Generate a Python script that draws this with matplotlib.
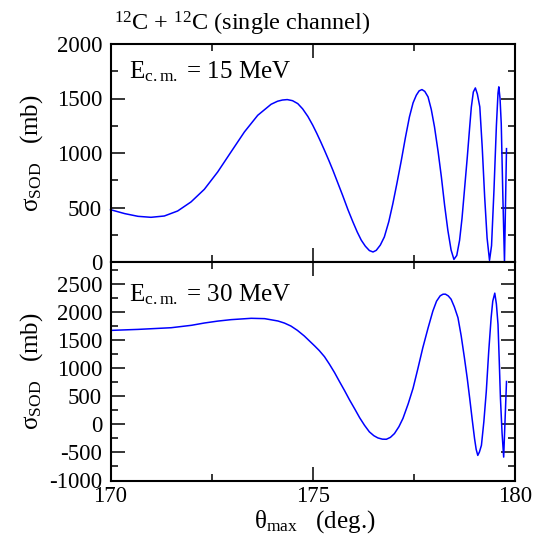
import matplotlib
matplotlib.use("Agg")
import matplotlib.pyplot as plt
from matplotlib.ticker import MultipleLocator

plt.rcParams['font.family'] = ['Liberation Serif', 'DejaVu Serif']
plt.rcParams['mathtext.fontset'] = 'custom'
plt.rcParams['mathtext.rm'] = 'Liberation Serif'
plt.rcParams['mathtext.it'] = 'Liberation Serif:italic'
plt.rcParams['axes.unicode_minus'] = False

# ---- data ----
theta_15 = [170.00, 170.35, 170.68, 171.00, 171.33, 171.66, 171.99, 172.32, 172.65, 172.98,
            173.31, 173.64, 173.97, 174.13, 174.25, 174.37, 174.50, 174.63, 174.75, 174.88,
            175.00, 175.10, 175.20, 175.29, 175.40, 175.50, 175.62, 175.74, 175.87, 175.99,
            176.10, 176.20, 176.30, 176.40, 176.49, 176.57,
            176.67, 176.77, 176.88, 176.98, 177.08, 177.19, 177.29, 177.39, 177.48, 177.56,
            177.63, 177.70, 177.77, 177.85, 177.93, 178.01, 178.10, 178.18, 178.26, 178.34,
            178.42, 178.49, 178.56, 178.63, 178.69, 178.75, 178.82, 178.88, 178.92, 178.97,
            179.02, 179.07, 179.13, 179.19, 179.25, 179.31, 179.37, 179.42, 179.48, 179.54,
            179.58, 179.60, 179.63, 179.66, 179.70, 179.74, 179.79]
sigma_15 = [480, 444, 419, 410, 422, 468, 551, 667, 826, 1010,
            1193, 1346, 1447, 1475, 1486, 1490, 1480, 1453, 1405, 1335,
            1255, 1180, 1100, 1025, 930, 840, 725, 610, 480, 370,
            275, 200, 145, 105, 92, 107,
            155, 230, 370, 535, 720, 933, 1140, 1331, 1460, 1530,
            1570, 1582, 1565, 1515, 1400, 1239, 1010, 780, 520, 291,
            110, 24, 60, 199, 400, 658, 960, 1239, 1420, 1560,
            1597, 1540, 1423, 1050, 597, 220, 15, 150, 658, 1250,
            1550, 1607, 1500, 1270, 600, 0, 1040]

theta_30 = [170.00, 170.68, 171.50, 172.00, 172.32, 172.65, 172.98, 173.48, 173.81, 174.14,
            174.30, 174.46, 174.62, 174.79, 174.92, 175.05, 175.16, 175.29, 175.41, 175.54, 175.66,
            175.79, 175.91, 176.04, 176.16, 176.28, 176.40, 176.51, 176.61, 176.72, 176.82,
            176.92, 177.02, 177.13, 177.23, 177.36, 177.48, 177.60, 177.72, 177.85, 177.97,
            178.06, 178.15, 178.22, 178.28, 178.35, 178.42, 178.50, 178.59, 178.67, 178.75,
            178.82, 178.88, 178.94, 179.00, 179.04, 179.08, 179.12, 179.17, 179.23, 179.29,
            179.35, 179.41, 179.45, 179.50, 179.54, 179.58, 179.61, 179.64, 179.68, 179.72,
            179.79]
sigma_30 = [1679, 1697, 1727, 1770, 1811, 1845, 1871, 1895, 1889, 1847,
            1810, 1757, 1680, 1580, 1490, 1400, 1320, 1210, 1079, 925, 767,
            600, 438, 275, 120, -15, -132, -200, -240, -262, -264,
            -230, -162, -40, 108, 370, 647, 1000, 1367, 1720, 2026,
            2200, 2296, 2325, 2326, 2295, 2236, 2100, 1906, 1580, 1187,
            820, 468, 100, -252, -444, -552, -492, -372, 50, 588,
            1300, 1906, 2200, 2344, 2150, 1786, 1150, 468, -150, -582,
            767]

xticks = [170, 175, 180]
xticklabels = ['170', '175', '180']
yticks_top = [0, 500, 1000, 1500, 2000]
yticklabels_top = ['0', '500', '1000', '1500', '2000']
yticks_bot = [-1000, -500, 0, 500, 1000, 1500, 2000, 2500]
yticklabels_bot = ['-1000', '-500', '0', '500', '1000', '1500', '2000', '2500']

title_text = r'$^{12}$C + $^{12}$C (single channel)'
label_15 = r'E$_{\rm c.m.}$ = 15 MeV'
label_30 = r'E$_{\rm c.m.}$ = 30 MeV'
ylabel_text = r'σ$_{\rm SOD}$   (mb)'
xlabel_text = r'θ$_{\rm max}$   (deg.)'

W, H = 547, 542
fig = plt.figure(figsize=(W / 100, H / 100), dpi=100)

def fx(px):
    return px / W

def fy(py):
    return 1 - py / H

left, right = 110.5, 515
ax1 = fig.add_axes([fx(left), fy(262), fx(right) - fx(left), fy(44) - fy(262)])
ax2 = fig.add_axes([fx(left), fy(480.5), fx(right) - fx(left), fy(262) - fy(480.5)])

for ax in (ax1, ax2):
    ax.set_xlim(170, 180)
    ax.set_xticks(xticks)
    ax.xaxis.set_minor_locator(MultipleLocator(2.5))
    ax.yaxis.set_minor_locator(MultipleLocator(250))
    ax.tick_params(which='both', direction='in', top=True, right=True,
                   width=1.1, labelsize=16.5, colors='black')
    ax.tick_params(which='major', length=10, pad=6)
    ax.tick_params(which='minor', length=5)
    for s in ax.spines.values():
        s.set_linewidth(1.5)

ax1.plot(theta_15, sigma_15, color='#0000ff', lw=1.1, clip_on=False)
ax1.set_ylim(0, 2000)
ax1.set_yticks(yticks_top)
ax1.set_yticklabels(yticklabels_top)
ax1.tick_params(axis='x', labelbottom=False)

ax2.plot(theta_30, sigma_30, color='#0000ff', lw=1.1)
ax2.set_ylim(-1000, 2900)
ax2.set_yticks(yticks_bot)
ax2.set_yticklabels(yticklabels_bot)
ax2.set_xticklabels(xticklabels)
ax2.tick_params(axis='x', pad=4)

ax1.text((129 - left) / (right - left), (262 - 78) / 218, label_15,
         transform=ax1.transAxes, fontsize=18, va='baseline', ha='left')
ax2.text((129 - left) / (right - left), (480.5 - 301) / 218.5, label_30,
         transform=ax2.transAxes, fontsize=18, va='baseline', ha='left')

fig.text(fx(114), fy(31), title_text, fontsize=17.5, ha='left', va='baseline')
fig.text(fx(32), fy(153), ylabel_text, fontsize=18, rotation=90, ha='center', va='center')
fig.text(fx(32), fy(371), ylabel_text, fontsize=18, rotation=90, ha='center', va='center')
fig.text(fx(315), fy(528), xlabel_text, fontsize=18, ha='center', va='baseline')

fig.savefig('out.png', dpi=100)
